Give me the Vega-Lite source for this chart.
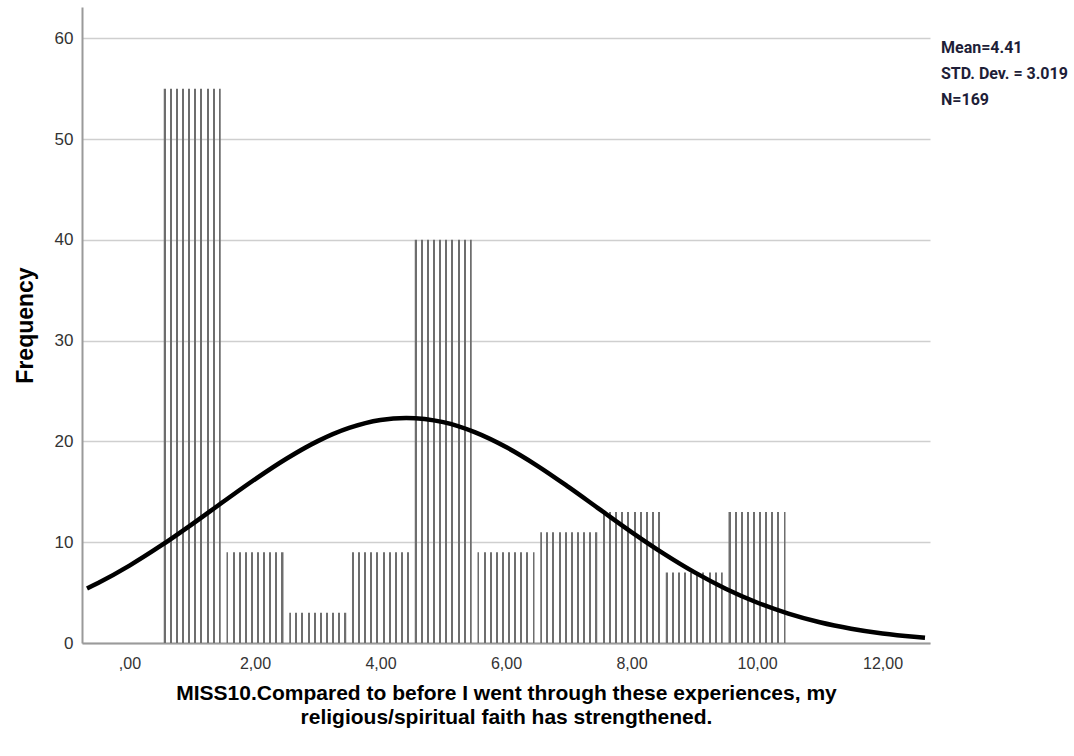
{
  "$schema": "https://vega.github.io/schema/vega-lite/v6.json",
  "width": 848,
  "height": 636,
  "autosize": {"type": "none"},
  "padding": {"left": 82, "top": 7, "right": 144, "bottom": 113},
  "background": "white",
  "config": {"view": {"stroke": null}},
  "datasets": {
    "bars": [
      {"value": 1, "count": 55}, {"value": 2, "count": 9}, {"value": 3, "count": 3},
      {"value": 4, "count": 9}, {"value": 5, "count": 40}, {"value": 6, "count": 9},
      {"value": 7, "count": 11}, {"value": 8, "count": 13}, {"value": 9, "count": 7},
      {"value": 10, "count": 13}
    ],
    "curve": [
      {"x": -0.677, "y": 5.40}, {"x": -0.5, "y": 5.95}, {"x": 0, "y": 7.68}, {"x": 0.5, "y": 9.65},
      {"x": 1, "y": 11.80}, {"x": 1.5, "y": 14.04}, {"x": 2, "y": 16.24}, {"x": 2.5, "y": 18.28},
      {"x": 3, "y": 20.03}, {"x": 3.5, "y": 21.34}, {"x": 4, "y": 22.13}, {"x": 4.41, "y": 22.33},
      {"x": 5, "y": 21.91}, {"x": 5.5, "y": 20.92}, {"x": 6, "y": 19.44}, {"x": 6.5, "y": 17.58},
      {"x": 7, "y": 15.46}, {"x": 7.5, "y": 13.23}, {"x": 8, "y": 11.01}, {"x": 8.5, "y": 8.92},
      {"x": 9, "y": 7.03}, {"x": 9.5, "y": 5.39}, {"x": 10, "y": 4.02}, {"x": 10.5, "y": 2.92},
      {"x": 11, "y": 2.06}, {"x": 11.5, "y": 1.42}, {"x": 12, "y": 0.947}, {"x": 12.5, "y": 0.616},
      {"x": 12.677, "y": 0.525}
    ],
    "stats": [
      {"stat": "Mean=4.41"}, {"stat": "STD. Dev. = 3.019"}, {"stat": "N=169"}
    ]
  },
  "layer": [
    {
      "data": {"name": "bars"},
      "mark": {
        "type": "bar",
        "width": 57,
        "strokeWidth": 0,
        "fill": {
          "gradient": "linear", "x1": 0, "x2": 1, "y1": 0, "y2": 0,
          "stops": [
            {"offset": 0, "color": "#6e6e6e"}, {"offset": 0.035, "color": "#6e6e6e"},
            {"offset": 0.035, "color": "rgba(255,255,255,0)"}, {"offset": 0.1072, "color": "rgba(255,255,255,0)"},
            {"offset": 0.1072, "color": "#6e6e6e"}, {"offset": 0.1422, "color": "#6e6e6e"},
            {"offset": 0.1422, "color": "rgba(255,255,255,0)"}, {"offset": 0.2144, "color": "rgba(255,255,255,0)"},
            {"offset": 0.2144, "color": "#6e6e6e"}, {"offset": 0.2494, "color": "#6e6e6e"},
            {"offset": 0.2494, "color": "rgba(255,255,255,0)"}, {"offset": 0.3217, "color": "rgba(255,255,255,0)"},
            {"offset": 0.3217, "color": "#6e6e6e"}, {"offset": 0.3567, "color": "#6e6e6e"},
            {"offset": 0.3567, "color": "rgba(255,255,255,0)"}, {"offset": 0.4289, "color": "rgba(255,255,255,0)"},
            {"offset": 0.4289, "color": "#6e6e6e"}, {"offset": 0.4639, "color": "#6e6e6e"},
            {"offset": 0.4639, "color": "rgba(255,255,255,0)"}, {"offset": 0.5361, "color": "rgba(255,255,255,0)"},
            {"offset": 0.5361, "color": "#6e6e6e"}, {"offset": 0.5711, "color": "#6e6e6e"},
            {"offset": 0.5711, "color": "rgba(255,255,255,0)"}, {"offset": 0.6433, "color": "rgba(255,255,255,0)"},
            {"offset": 0.6433, "color": "#6e6e6e"}, {"offset": 0.6783, "color": "#6e6e6e"},
            {"offset": 0.6783, "color": "rgba(255,255,255,0)"}, {"offset": 0.7506, "color": "rgba(255,255,255,0)"},
            {"offset": 0.7506, "color": "#6e6e6e"}, {"offset": 0.7856, "color": "#6e6e6e"},
            {"offset": 0.7856, "color": "rgba(255,255,255,0)"}, {"offset": 0.8578, "color": "rgba(255,255,255,0)"},
            {"offset": 0.8578, "color": "#6e6e6e"}, {"offset": 0.8928, "color": "#6e6e6e"},
            {"offset": 0.8928, "color": "rgba(255,255,255,0)"}, {"offset": 0.965, "color": "rgba(255,255,255,0)"},
            {"offset": 0.965, "color": "#6e6e6e"}, {"offset": 1, "color": "#6e6e6e"}
          ]
        }
      },
      "encoding": {
        "x": {
          "field": "value", "type": "quantitative",
          "scale": {"domain": [-0.677, 12.677], "nice": false, "zero": false},
          "axis": {
            "values": [0, 2, 4, 6, 8, 10, 12],
            "labelExpr": "datum.value == 0 ? ',00' : replace(format(datum.value, '.2f'), '.', ',')",
            "grid": false, "ticks": false,
            "domainColor": "#9a9a9a", "domainWidth": 2,
            "labelFont": "Liberation Sans", "labelFontSize": 16, "labelColor": "#333333",
            "labelPadding": 12,
            "title": ["MISS10.Compared to before I went through these experiences, my", "religious/spiritual faith has strengthened."],
            "titleFont": "Liberation Sans", "titleFontSize": 21, "titleFontWeight": "bold",
            "titleColor": "#000000", "titlePadding": 11, "titleLineHeight": 24
          }
        },
        "y": {
          "field": "count", "type": "quantitative",
          "scale": {"domain": [0, 63.1], "nice": false},
          "axis": {
            "values": [0, 10, 20, 30, 40, 50, 60],
            "grid": true, "gridColor": "#cfcfcf", "gridWidth": 1.5,
            "ticks": false,
            "domainColor": "#9a9a9a", "domainWidth": 2,
            "labelFont": "Liberation Sans", "labelFontSize": 17, "labelColor": "#333333",
            "labelPadding": 9,
            "title": "Frequency",
            "titleFont": "Liberation Sans", "titleFontSize": 23, "titleFontWeight": "bold",
            "titleColor": "#000000", "titlePadding": 17
          }
        }
      }
    },
    {
      "data": {"name": "curve"},
      "mark": {"type": "line", "color": "#000000", "strokeWidth": 4.5, "interpolate": "monotone"},
      "encoding": {
        "x": {"field": "x", "type": "quantitative"},
        "y": {"field": "y", "type": "quantitative"}
      }
    },
    {
      "data": {"name": "stats"},
      "mark": {"type": "point", "opacity": 0},
      "encoding": {
        "color": {
          "field": "stat", "type": "nominal",
          "sort": ["Mean=4.41", "STD. Dev. = 3.019", "N=169"],
          "scale": {"range": ["#ffffff", "#ffffff", "#ffffff"]},
          "legend": {
            "title": null, "orient": "none", "legendX": 843, "legendY": 33,
            "padding": 0, "symbolSize": 0, "symbolOpacity": 0, "symbolStrokeWidth": 0,
            "labelFont": "Roboto", "labelFontWeight": "bold", "labelFontSize": 16,
            "labelColor": "#1e1e38", "rowPadding": 10, "labelOffset": 0
          }
        }
      }
    }
  ]
}
